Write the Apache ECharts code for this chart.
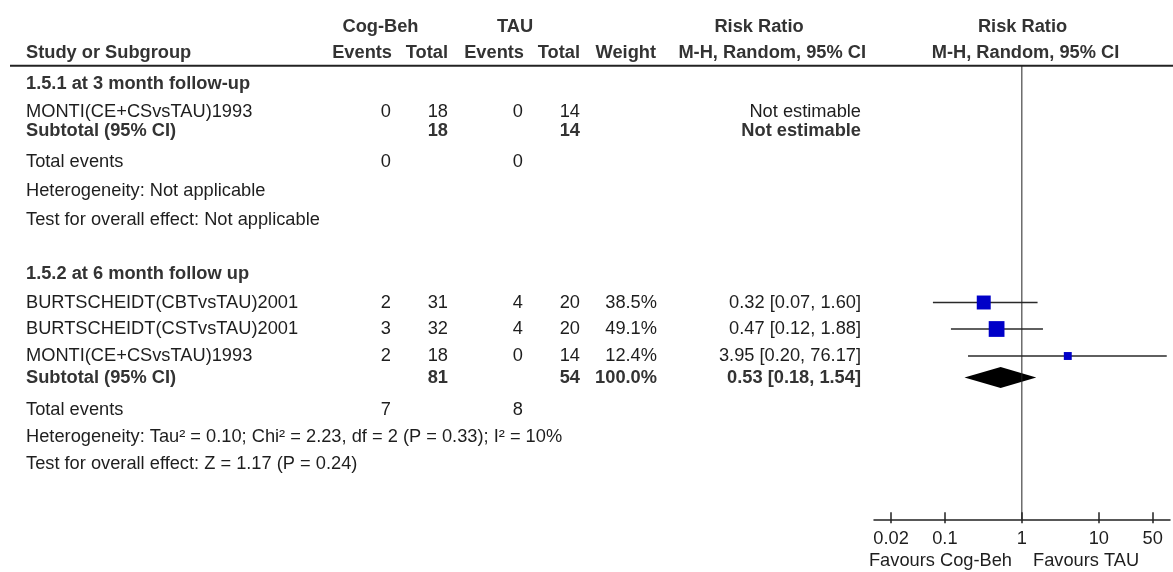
<!DOCTYPE html>
<html><head><meta charset="utf-8">
<script src="https://cdn.jsdelivr.net/npm/echarts@6/dist/echarts.min.js"></script>
<style>html,body{margin:0;padding:0;background:#fff}#c{width:1173px;height:572px}</style>
</head><body><div id="c"></div>
<script>
// ---------------- DATA ----------------
const groupTitles = ['1.5.1 at 3 month follow-up', '1.5.2 at 6 month follow up'];

const studies1 = ['MONTI(CE+CSvsTAU)1993'];
const eventsCB1 = [0];
const totalCB1 = [18];
const eventsTAU1 = [0];
const totalTAU1 = [14];
const subtotalN1 = [18, 14];
const totalEvents1 = [0, 0];
const het1 = 'Heterogeneity: Not applicable';
const test1 = 'Test for overall effect: Not applicable';

const studies2 = ['BURTSCHEIDT(CBTvsTAU)2001', 'BURTSCHEIDT(CSTvsTAU)2001', 'MONTI(CE+CSvsTAU)1993'];
const eventsCB2 = [2, 3, 2];
const totalCB2 = [31, 32, 18];
const eventsTAU2 = [4, 4, 0];
const totalTAU2 = [20, 20, 14];
const weights2 = [38.5, 49.1, 12.4];
const rr2 = [0.32, 0.47, 3.95];
const lo2 = [0.07, 0.12, 0.20];
const hi2 = [1.60, 1.88, 76.17];
const subtotalN2 = [81, 54];
const subtotalWeight2 = 100.0;
const subtotalRR2 = [0.53, 0.18, 1.54];
const totalEvents2 = [7, 8];
const het2 = 'Heterogeneity: Tau\u00b2 = 0.10; Chi\u00b2 = 2.23, df = 2 (P = 0.33); I\u00b2 = 10%';
const test2 = 'Test for overall effect: Z = 1.17 (P = 0.24)';

const tickValues = [0.02, 0.1, 1, 10, 50];
const favoursLeft = 'Favours Cog-Beh';
const favoursRight = 'Favours TAU';

// ---------------- LAYOUT ----------------
const FS = 18.25;
const FAM = '"Liberation Sans", Arial, sans-serif';
const FONT = FS + 'px ' + FAM;
const BFONT = 'bold ' + FS + 'px ' + FAM;
const C_REG = '#1e1e1e', C_BOLD = '#333333';
const X = { left: 26, evC: 391, totC: 448, evT: 523, totT: 580, w: 657, rr: 861 };
const Y = {
  h1: 26.7, h2: 53, rule: 65.7,
  g1: 84, r1: [112], sub1: 131, te1: 162, het1: 191, test1: 220,
  g2: 274, r2: [302.5, 329, 356], sub2: 377.5, te2: 410, het2: 437, test2: 464,
  axis: 519.3, fav: 561
};

const g = [];
function T(x, y, s, align, bold) {
  g.push({ type: 'text', silent: true, x: x, y: y,
    style: { text: String(s), font: bold ? BFONT : FONT, fill: bold ? C_BOLD : C_REG,
      align: align || 'left', verticalAlign: 'middle', textAlign: align || 'left', textVerticalAlign: 'middle' } });
}
const fmt2 = v => v.toFixed(2);
const rrText = (r, l, h) => fmt2(r) + ' [' + fmt2(l) + ', ' + fmt2(h) + ']';

// headers
T(380.5, Y.h1, 'Cog-Beh', 'center', true);
T(515, Y.h1, 'TAU', 'center', true);
T(759, Y.h1, 'Risk Ratio', 'center', true);
T(1022.5, Y.h1, 'Risk Ratio', 'center', true);
T(X.left, Y.h2, 'Study or Subgroup', 'left', true);
T(X.evC + 1, Y.h2, 'Events', 'right', true);
T(X.totC, Y.h2, 'Total', 'right', true);
T(X.evT + 1, Y.h2, 'Events', 'right', true);
T(X.totT, Y.h2, 'Total', 'right', true);
T(X.w - 1, Y.h2, 'Weight', 'right', true);
T(866, Y.h2, 'M-H, Random, 95% CI', 'right', true);
T(1025.5, Y.h2, 'M-H, Random, 95% CI', 'center', true);
g.push({ type: 'line', silent: true, shape: { x1: 10, y1: Y.rule, x2: 1173, y2: Y.rule }, style: { stroke: '#222', lineWidth: 2 } });

// subgroup 1
T(X.left, Y.g1, groupTitles[0], 'left', true);
studies1.forEach((s, i) => {
  const y = Y.r1[i];
  T(X.left, y, s); T(X.evC, y, eventsCB1[i], 'right'); T(X.totC, y, totalCB1[i], 'right');
  T(X.evT, y, eventsTAU1[i], 'right'); T(X.totT, y, totalTAU1[i], 'right');
  T(X.rr, y, 'Not estimable', 'right');
});
T(X.left, Y.sub1, 'Subtotal (95% CI)', 'left', true);
T(X.totC, Y.sub1, subtotalN1[0], 'right', true);
T(X.totT, Y.sub1, subtotalN1[1], 'right', true);
T(X.rr, Y.sub1, 'Not estimable', 'right', true);
T(X.left, Y.te1, 'Total events');
T(X.evC, Y.te1, totalEvents1[0], 'right');
T(X.evT, Y.te1, totalEvents1[1], 'right');
T(X.left, Y.het1, het1);
T(X.left, Y.test1, test1);

// subgroup 2
T(X.left, Y.g2, groupTitles[1], 'left', true);
studies2.forEach((s, i) => {
  const y = Y.r2[i];
  T(X.left, y, s); T(X.evC, y, eventsCB2[i], 'right'); T(X.totC, y, totalCB2[i], 'right');
  T(X.evT, y, eventsTAU2[i], 'right'); T(X.totT, y, totalTAU2[i], 'right');
  T(X.w, y, weights2[i].toFixed(1) + '%', 'right');
  T(X.rr, y, rrText(rr2[i], lo2[i], hi2[i]), 'right');
});
T(X.left, Y.sub2, 'Subtotal (95% CI)', 'left', true);
T(X.totC, Y.sub2, subtotalN2[0], 'right', true);
T(X.totT, Y.sub2, subtotalN2[1], 'right', true);
T(X.w, Y.sub2, subtotalWeight2.toFixed(1) + '%', 'right', true);
T(X.rr, Y.sub2, rrText(subtotalRR2[0], subtotalRR2[1], subtotalRR2[2]), 'right', true);
T(X.left, Y.te2, 'Total events');
T(X.evC, Y.te2, totalEvents2[0], 'right');
T(X.evT, Y.te2, totalEvents2[1], 'right');
T(X.left, Y.het2, het2);
T(X.left, Y.test2, test2);

// favours labels
T(1012, Y.fav, favoursLeft, 'right');
T(1033, Y.fav, favoursRight, 'left');

// ---------------- FOREST ----------------
const lg = Math.log10;
const tickLogs = tickValues.map(lg);
const xMin = -1.92, xMax = 1.924;
const studyData = studies2.map((s, i) => [lg(lo2[i]), lg(hi2[i]), lg(rr2[i]), Y.r2[i], weights2[i]]);
const diamondData = [[lg(subtotalRR2[1]), lg(subtotalRR2[2]), lg(subtotalRR2[0]), Y.sub2]];

const chart = echarts.init(document.getElementById('c'));
chart.setOption({
  animation: false,
  backgroundColor: '#fff',
  grid: { left: 874, width: 296, top: 0, height: Y.axis },
  xAxis: [
    { type: 'value', min: xMin, max: xMax, position: 'bottom',
      axisLine: { show: true, onZero: false, lineStyle: { color: '#222', width: 1.5 } },
      axisTick: { show: true, customValues: tickLogs, length: 4, lineStyle: { color: '#222', width: 1.5 } },
      axisLabel: { show: true, customValues: tickLogs, margin: 11, fontSize: FS, color: C_REG,
        fontFamily: FAM,
        formatter: v => { let k = 0, best = 1e9; tickLogs.forEach((t, i) => { if (Math.abs(t - v) < best) { best = Math.abs(t - v); k = i; } }); return String(tickValues[k]); } },
      splitLine: { show: false } },
    { type: 'value', min: xMin, max: xMax, position: 'bottom',
      axisLine: { show: false, onZero: false },
      axisTick: { show: true, inside: true, customValues: tickLogs, length: 7, lineStyle: { color: '#222', width: 1.5 } },
      axisLabel: { show: false }, splitLine: { show: false } }
  ],
  yAxis: { type: 'value', min: 0, max: Y.axis, inverse: true, show: false },
  series: [
    { type: 'line', silent: true, symbol: 'none', data: [[0, Y.rule], [0, Y.axis]],
      lineStyle: { color: '#222', width: 1 } },
    { type: 'custom', silent: true, clip: false, data: studyData,
      encode: { x: [0, 1, 2], y: 3 },
      renderItem: (params, api) => {
        const a = api.coord([api.value(0), api.value(3)]);
        const b = api.coord([api.value(1), api.value(3)]);
        const c = api.coord([api.value(2), api.value(3)]);
        const s = 2.25 * Math.sqrt(api.value(4));
        return { type: 'group', children: [
          { type: 'line', shape: { x1: a[0], y1: a[1], x2: b[0], y2: b[1] }, style: { stroke: '#2a2a2a', lineWidth: 1.5 } },
          { type: 'rect', shape: { x: c[0] - s / 2, y: c[1] - s / 2, width: s, height: s }, style: { fill: '#0000c8' } }
        ] };
      } },
    { type: 'custom', silent: true, clip: false, data: diamondData,
      encode: { x: [0, 1, 2], y: 3 },
      renderItem: (params, api) => {
        const a = api.coord([api.value(0), api.value(3)]);
        const b = api.coord([api.value(1), api.value(3)]);
        const c = api.coord([api.value(2), api.value(3)]);
        const h = 10.5;
        return { type: 'polygon', shape: { points: [[a[0], a[1]], [c[0], c[1] - h], [b[0], b[1]], [c[0], c[1] + h]] }, style: { fill: '#000' } };
      } }
  ],
  graphic: g
});
</script></body></html>
